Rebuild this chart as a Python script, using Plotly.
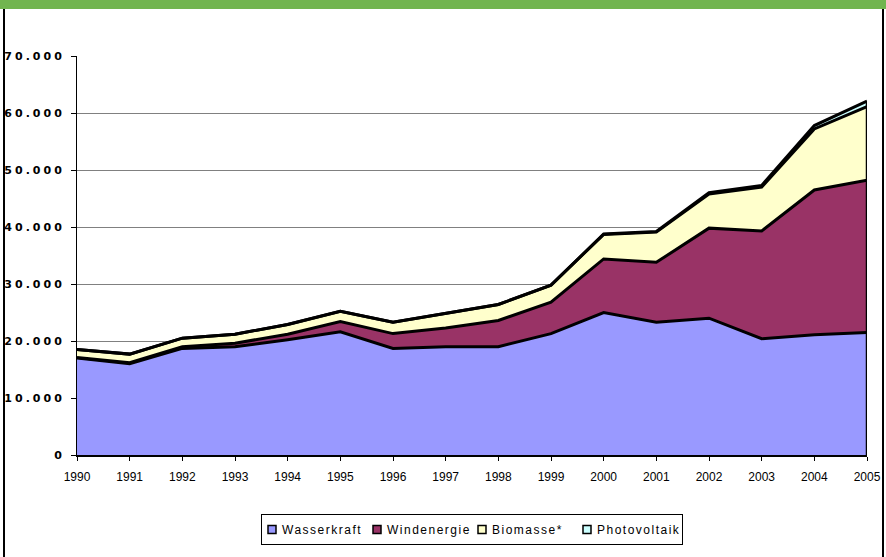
import plotly.graph_objects as go

# ---- data (GWh) ----
years = [1990, 1991, 1992, 1993, 1994, 1995, 1996, 1997, 1998, 1999,
         2000, 2001, 2002, 2003, 2004, 2005]
wasserkraft = [17000, 16000, 18700, 19000, 20200, 21600, 18700, 19000, 19000, 21300,
               25000, 23300, 24000, 20400, 21100, 21500]
windenergie = [100, 200, 300, 600, 1000, 1800, 2600, 3300, 4600, 5500,
               9400, 10500, 15800, 18900, 25400, 26700]
biomasse = [1400, 1500, 1500, 1600, 1700, 1800, 2000, 2500, 2800, 3000,
            4300, 5300, 6000, 7700, 10700, 12900]
photovoltaik = [0, 0, 0, 0, 0, 0, 0, 0, 0, 0,
                60, 100, 200, 300, 600, 1000]
series_names = ["Wasserkraft", "Windenergie", "Biomasse*", "Photovoltaik"]
series_values = [wasserkraft, windenergie, biomasse, photovoltaik]
colors = ["#9999FF", "#993366", "#FFFFCC", "#CCFFFF"]
y_ticks = [0, 10000, 20000, 30000, 40000, 50000, 60000, 70000]

# ---- layout geometry (pixels) ----
W, H = 886, 557
L, R, T, B = 77, 19, 56, 102
pw, ph = W - L - R, H - T - B

def px_x(x):
    return (x - L) / pw

def px_y(y):
    return (H - B - y) / ph

fig = go.Figure()

for name, vals, col in zip(series_names, series_values, colors):
    fig.add_trace(go.Scatter(
        x=years, y=vals, name=name, stackgroup="one", mode="lines",
        line=dict(color="black", width=3), fillcolor=col,
        showlegend=False, hoverinfo="x+y+name"))

# right edge outline of the stack
total = [sum(v) for v in zip(*series_values)]
fig.add_trace(go.Scatter(x=[years[-1], years[-1]], y=[0, total[-1]], mode="lines",
                         line=dict(color="black", width=2.5), showlegend=False,
                         hoverinfo="skip"))

# legend entries
for name, col in zip(series_names, colors):
    fig.add_trace(go.Scatter(
        x=[None], y=[None], name=name, mode="markers",
        marker=dict(symbol="square", size=8, color=col,
                    line=dict(color="black", width=1.5))))

fig.update_layout(
    width=W, height=H, autosize=False,
    margin=dict(l=L, r=R, t=T, b=B, autoexpand=False),
    paper_bgcolor="white", plot_bgcolor="white",
    separators=",.",
    font=dict(family="Liberation Sans, Arial, sans-serif", color="black"),
    showlegend=True,
    legend=dict(orientation="h", x=0.5, xanchor="center", y=px_y(514), yanchor="top",
                bordercolor="black", borderwidth=1, bgcolor="white",
                font=dict(size=12, family="Liberation Sans, Arial, sans-serif"),
                itemwidth=30, entrywidth=60, traceorder="normal", tracegroupgap=0),
    xaxis=dict(range=[years[0], years[-1]], tickmode="array", tickvals=years,
               ticktext=[str(y) for y in years], showgrid=False, automargin=False,
               showline=True, linecolor="black", linewidth=2,
               ticks="outside", ticklen=4, tickcolor="black",
               ticklabelstandoff=6,
               tickfont=dict(size=12), zeroline=False),
    yaxis=dict(range=[0, 70000], tickmode="array", tickvals=y_ticks, automargin=False,
               tickformat=",.0f", showgrid=True, gridcolor="#808080", gridwidth=1,
               showline=True, linecolor="black", linewidth=1,
               ticks="outside", ticklen=5, tickcolor="black",
               ticklabelstandoff=4,
               tickfont=dict(size=11, family="DejaVu Sans, sans-serif", weight="bold"),
               zeroline=False),
    shapes=[
        dict(type="rect", xref="paper", yref="paper",
             x0=px_x(0), x1=px_x(W), y0=px_y(9), y1=px_y(0),
             fillcolor="#71B54F", line=dict(width=0), layer="above"),
        dict(type="line", xref="paper", yref="paper",
             x0=px_x(4), x1=px_x(4), y0=px_y(9), y1=px_y(H),
             line=dict(color="black", width=2)),
        dict(type="line", xref="paper", yref="paper",
             x0=px_x(883), x1=px_x(883), y0=px_y(9), y1=px_y(H),
             line=dict(color="black", width=2)),
    ],
)

post = """
document.body.style.margin = '0';
document.body.style.overflow = 'hidden';
var gd = document.getElementById('{plot_id}');
function sp(){
  gd.querySelectorAll('.ytick text').forEach(function(t){t.style.letterSpacing='3px';});
  gd.querySelectorAll('.legend .legendtext').forEach(function(t){
    t.setAttribute('x', '20'); t.style.letterSpacing='1.5px';
  });
  gd.querySelectorAll('.legend path.scatterpts').forEach(function(p){
    p.setAttribute('transform', 'translate(10,0)');
  });
}
sp();
if (gd.on) { gd.on('plotly_afterplot', sp); }
"""
fig.write_html("out.html", post_script=post,
               config={"displayModeBar": False, "responsive": False, "staticPlot": True})
